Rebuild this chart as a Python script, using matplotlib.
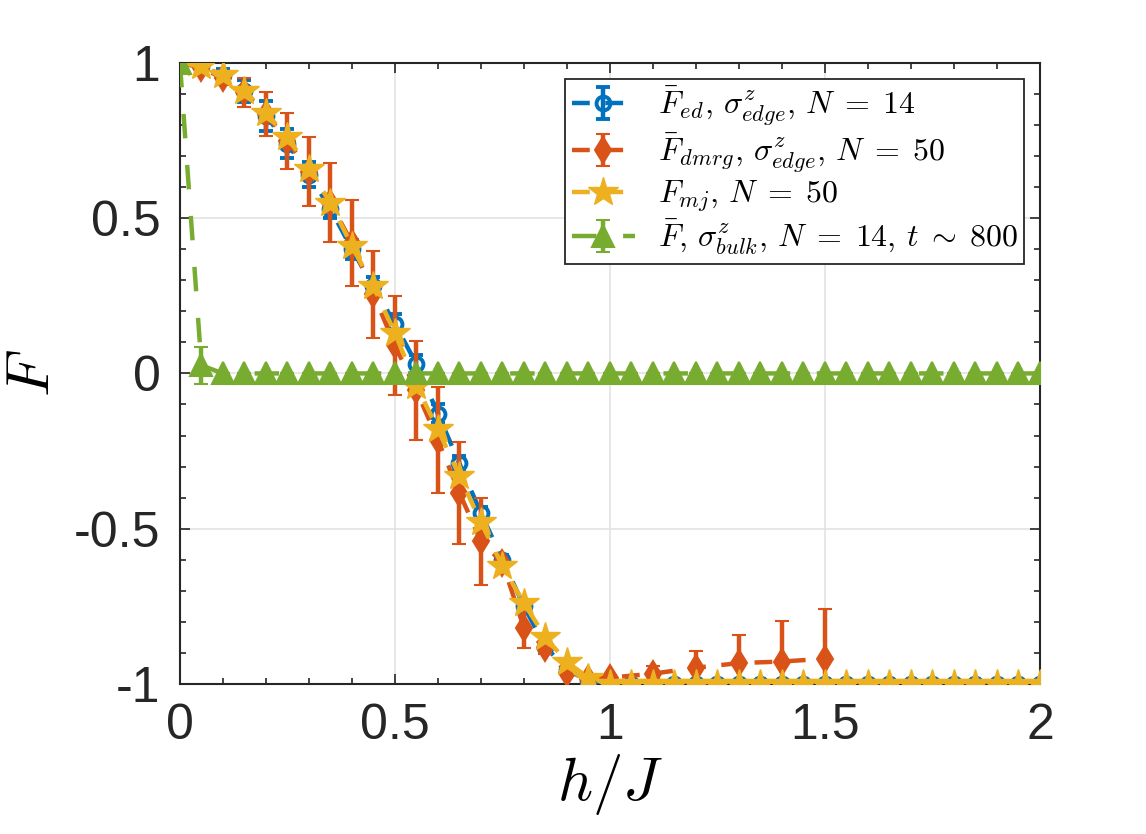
import numpy as np
import matplotlib
matplotlib.use("Agg")
import matplotlib.pyplot as plt
from matplotlib.ticker import MultipleLocator

plt.rcParams['font.family'] = ['Liberation Sans', 'DejaVu Sans']
plt.rcParams['mathtext.fontset'] = 'cm'

# ---------------- data ----------------
h = np.round(np.arange(0, 2.0001, 0.05), 2)

F_ed = [1.0, 0.99, 0.96, 0.91, 0.83, 0.74, 0.64, 0.53, 0.40, 0.28, 0.16, 0.03,
        -0.13, -0.29, -0.45, -0.60, -0.75, -0.88, -0.955, -0.99, -1.0] + [-1.0] * 20
F_ed_err = [0.0, 0.01, 0.02, 0.035, 0.048, 0.046, 0.04, 0.03, 0.03, 0.03, 0.03, 0.03,
            0.03, 0.025, 0.02, 0.015, 0.01, 0.01, 0.005, 0.0, 0.0] + [0.0] * 20

h_dmrg = [0.0, 0.05, 0.1, 0.15, 0.2, 0.25, 0.3, 0.35, 0.4, 0.45, 0.5, 0.55, 0.6,
          0.65, 0.7, 0.75, 0.8, 0.85, 0.9, 0.95, 1.0, 1.1, 1.2, 1.3, 1.4, 1.5]
F_dmrg = [1.0, 0.985, 0.95, 0.905, 0.835, 0.75, 0.65, 0.55, 0.42, 0.255, 0.09, -0.055,
          -0.215, -0.385, -0.54, -0.61, -0.82, -0.885, -0.965, -0.985, -0.98,
          -0.967, -0.948, -0.933, -0.928, -0.919]
F_dmrg_err = [0.0, 0.01, 0.02, 0.047, 0.07, 0.09, 0.11, 0.127, 0.137, 0.14, 0.158, 0.158,
              0.17, 0.164, 0.14, 0.01, 0.065, 0.02, 0.01, 0.01, 0.01,
              0.025, 0.053, 0.09, 0.13, 0.16]

F_mj = [1.0, 0.99, 0.96, 0.91, 0.84, 0.76, 0.66, 0.55, 0.41, 0.28, 0.13, -0.04,
        -0.18, -0.33, -0.48, -0.62, -0.74, -0.85, -0.93, -0.98, -1.0] + [-1.0] * 20

F_bulk = [1.0, 0.026] + [0.0] * 39
F_bulk_err = [0.0, 0.059] + [0.0] * 39

labels = [r'$\bar{F}_{ed},\,\sigma^z_{edge},\,N\;=\;14$',
          r'$\bar{F}_{dmrg},\,\sigma^z_{edge},\,N\;=\;50$',
          r'$F_{mj},\,N\;=\;50$',
          r'$\bar{F},\,\sigma^z_{bulk},\,N\;=\;14,\,t\;\sim\;800$']

xticks = [0, 0.5, 1, 1.5, 2]
xticklabels = ['0', '0.5', '1', '1.5', '2']
yticks = [-1, -0.5, 0, 0.5, 1]
yticklabels = ['-1', '-0.5', '0', '0.5', '1']

c_blue = '#0072BD'
c_orange = '#D95319'
c_yellow = '#EDB120'
c_green = '#77AC30'

# ---------------- figure ----------------
fig = plt.figure(figsize=(11.46, 8.34), dpi=100)
ax = fig.add_axes([0.157, 0.18, 0.7505, 0.7445])

lw = 3.2
ls = (0, (4, 3.5))

e1 = ax.errorbar(h, F_ed, yerr=F_ed_err, color=c_blue, lw=lw, ls=ls, marker='o', ms=10,
                 mfc='none', mew=2.8, capsize=5, capthick=lw, elinewidth=lw,
                 label=labels[0], zorder=3)
e2 = ax.errorbar(h_dmrg, F_dmrg, yerr=F_dmrg_err, color=c_orange, lw=lw, ls=ls, marker='d',
                 ms=13, mew=1.5, capsize=5, capthick=lw, elinewidth=lw,
                 label=labels[1], zorder=4)
l3, = ax.plot(h, F_mj, color=c_yellow, lw=lw, ls=ls, marker='*', ms=22, mew=1.0,
              label=labels[2], zorder=5)
e4 = ax.errorbar(h, F_bulk, yerr=F_bulk_err, color=c_green, lw=lw, ls=(0, (5.5, 6)),
                 marker='^', ms=16, mew=1.5, capsize=5, capthick=lw, elinewidth=lw,
                 label=labels[3], zorder=6)

ax.set_xlim(0, 2)
ax.set_ylim(-1, 1)
ax.set_xticks(xticks)
ax.set_xticklabels(xticklabels)
ax.set_yticks(yticks)
ax.set_yticklabels(yticklabels)
ax.xaxis.set_minor_locator(MultipleLocator(0.1))
ax.yaxis.set_minor_locator(MultipleLocator(0.1))

ax.grid(True, which='major', color='#e3e3e3', lw=1.2)
ax.set_axisbelow(True)

ax.tick_params(which='both', direction='in', top=True, right=True, colors='#262626',
               labelsize=36, width=1.2)
ax.tick_params(which='major', length=7, pad=14)
ax.tick_params(which='minor', length=4)
for s in ax.spines.values():
    s.set_color('#262626')
    s.set_linewidth(1.5)

ax.set_xlabel(r'$h/J$', fontsize=44, labelpad=2)
ax.set_ylabel(r'$\bar{F}$', fontsize=44, labelpad=8)

for lab in ax.get_xticklabels() + ax.get_yticklabels():
    lab.set_color('#262626')

leg = ax.legend(handles=[e1, e2, l3, e4], labels=labels, loc='upper right',
                fontsize=23, frameon=True, fancybox=False,
                framealpha=1, edgecolor='#262626', handlelength=2.0,
                borderaxespad=0.5, handletextpad=0.7, labelspacing=0.12,
                borderpad=0.2)
leg.get_frame().set_linewidth(1.3)

fig.savefig('out.png', dpi=100)
